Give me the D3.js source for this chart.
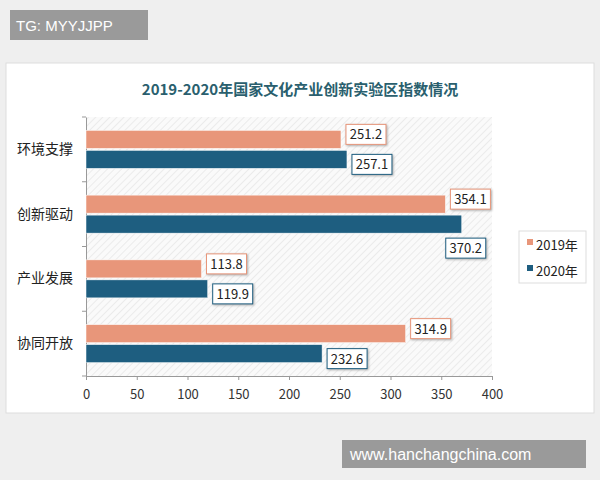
<!DOCTYPE html><html><head><meta charset="utf-8"><script src="https://d3js.org/d3.v7.min.js"></script>
<style>body{margin:0;background:#efefef}</style></head><body><svg width="600" height="480"></svg><script>
const categories=["环境支撑","创新驱动","产业发展","协同开放"];
const series2019=[251.2,354.1,113.8,314.9];
const series2020=[257.1,370.2,119.9,232.6];
const seriesNames=["2019年","2020年"];
const ticks=[0,50,100,150,200,250,300,350,400];
const colors=["#E8967A","#1E5E80"];
const svg=d3.select("svg");
const F="'Noto Sans CJK SC',sans-serif";
svg.append("rect").attr("x",6).attr("y",63).attr("width",588).attr("height",350).attr("fill","#fff").attr("stroke","#ddd");
const defs=svg.append("defs");
const p=defs.append("pattern").attr("id","h").attr("width",5).attr("height",5).attr("patternUnits","userSpaceOnUse").attr("patternTransform","rotate(45)");
p.append("rect").attr("width",5).attr("height",5).attr("fill","#fafafa");
p.append("line").attr("x1",0).attr("y1",0).attr("x2",0).attr("y2",5).attr("stroke","#dcdcdc").attr("stroke-width",1);
const x=d3.scaleLinear().domain([0,400]).range([86,492]);
const y=d3.scaleBand().domain(categories).range([117,376]);
svg.append("rect").attr("x",86).attr("y",117).attr("width",406).attr("height",259).attr("fill","url(#h)");
svg.append("text").attr("x",300).attr("y",95).attr("text-anchor","middle").attr("font-family",F).attr("font-weight","bold").attr("font-size",15).attr("fill","#2a5f6e").text("2019-2020年国家文化产业创新实验区指数情况");
const ax=svg.append("g").attr("transform","translate(0,376)").call(d3.axisBottom(x).tickValues(ticks).tickSize(4));
ax.selectAll("text").attr("font-family",F).attr("font-size",13).attr("fill","#333").attr("dy","1.2em");
ax.selectAll("line,path").attr("stroke","#999");
const ay=svg.append("g").attr("transform","translate(86,0)").call(d3.axisLeft(y).tickSize(0).tickPadding(13));
ay.selectAll("text").attr("font-family",F).attr("font-size",14).attr("fill","#222");
ay.select("path").attr("stroke","#999");
ay.selectAll(".b").data(y.domain().concat([null])).enter().append("line").attr("x1",-4).attr("x2",0).attr("y1",(d,i)=>117+i*y.step()).attr("y2",(d,i)=>117+i*y.step()).attr("stroke","#999");
const bh=18;
[series2019,series2020].forEach((s,k)=>{
 const g=svg.append("g");
 categories.forEach((c,i)=>{
  const yy=y(c)+y.bandwidth()/2-bh-1+k*(bh+2);
  g.append("rect").attr("x",x(0)).attr("y",yy).attr("width",x(s[i])-x(0)).attr("height",bh).attr("fill",colors[k]).attr("stroke","#fff").attr("stroke-width",0.5);
  const big=(k==1&&s[i]>360);
  const lx=big?x(s[i])-16:x(s[i])+5, ly=big?yy+bh+5:yy+(k==0?-6:4);
  const bw=40,bhh=20;
  g.append("rect").attr("x",lx).attr("y",ly).attr("width",bw).attr("height",bhh).attr("fill","#fff").attr("stroke",k==0?"#E8967A":"#1E5E80").attr("stroke-width",1).style("filter","drop-shadow(1px 1px 1px #aaa)");
  g.append("text").attr("x",lx+bw/2).attr("y",ly+15).attr("text-anchor","middle").attr("font-family",F).attr("font-size",13).attr("fill","#222").text(s[i].toFixed(1));
 });
});
const lg=svg.append("g").attr("transform","translate(519,231)");
lg.append("rect").attr("width",67).attr("height",52).attr("fill","#fff").attr("stroke","#ddd");
seriesNames.forEach((n,i)=>{
 lg.append("rect").attr("x",8).attr("y",14+i*26-6).attr("width",6).attr("height",6).attr("fill",colors[i]);
 lg.append("text").attr("x",17).attr("y",14+i*26+5).attr("font-family",F).attr("font-size",13).attr("fill","#222").text(n);
});
svg.append("rect").attr("x",10).attr("y",10).attr("width",138).attr("height",30).attr("fill","#9a9a9a");
svg.append("text").attr("x",16).attr("y",31).attr("font-family","Liberation Sans,Arial").attr("font-size",15).attr("fill","#fff").text("TG: MYYJJPP");
svg.append("rect").attr("x",342).attr("y",440).attr("width",244).attr("height",28).attr("fill","#9a9a9a");
svg.append("text").attr("x",350).attr("y",460).attr("font-family","Liberation Sans,Arial").attr("font-size",16).attr("fill","#fff").text("www.hanchangchina.com");
</script></body></html>
